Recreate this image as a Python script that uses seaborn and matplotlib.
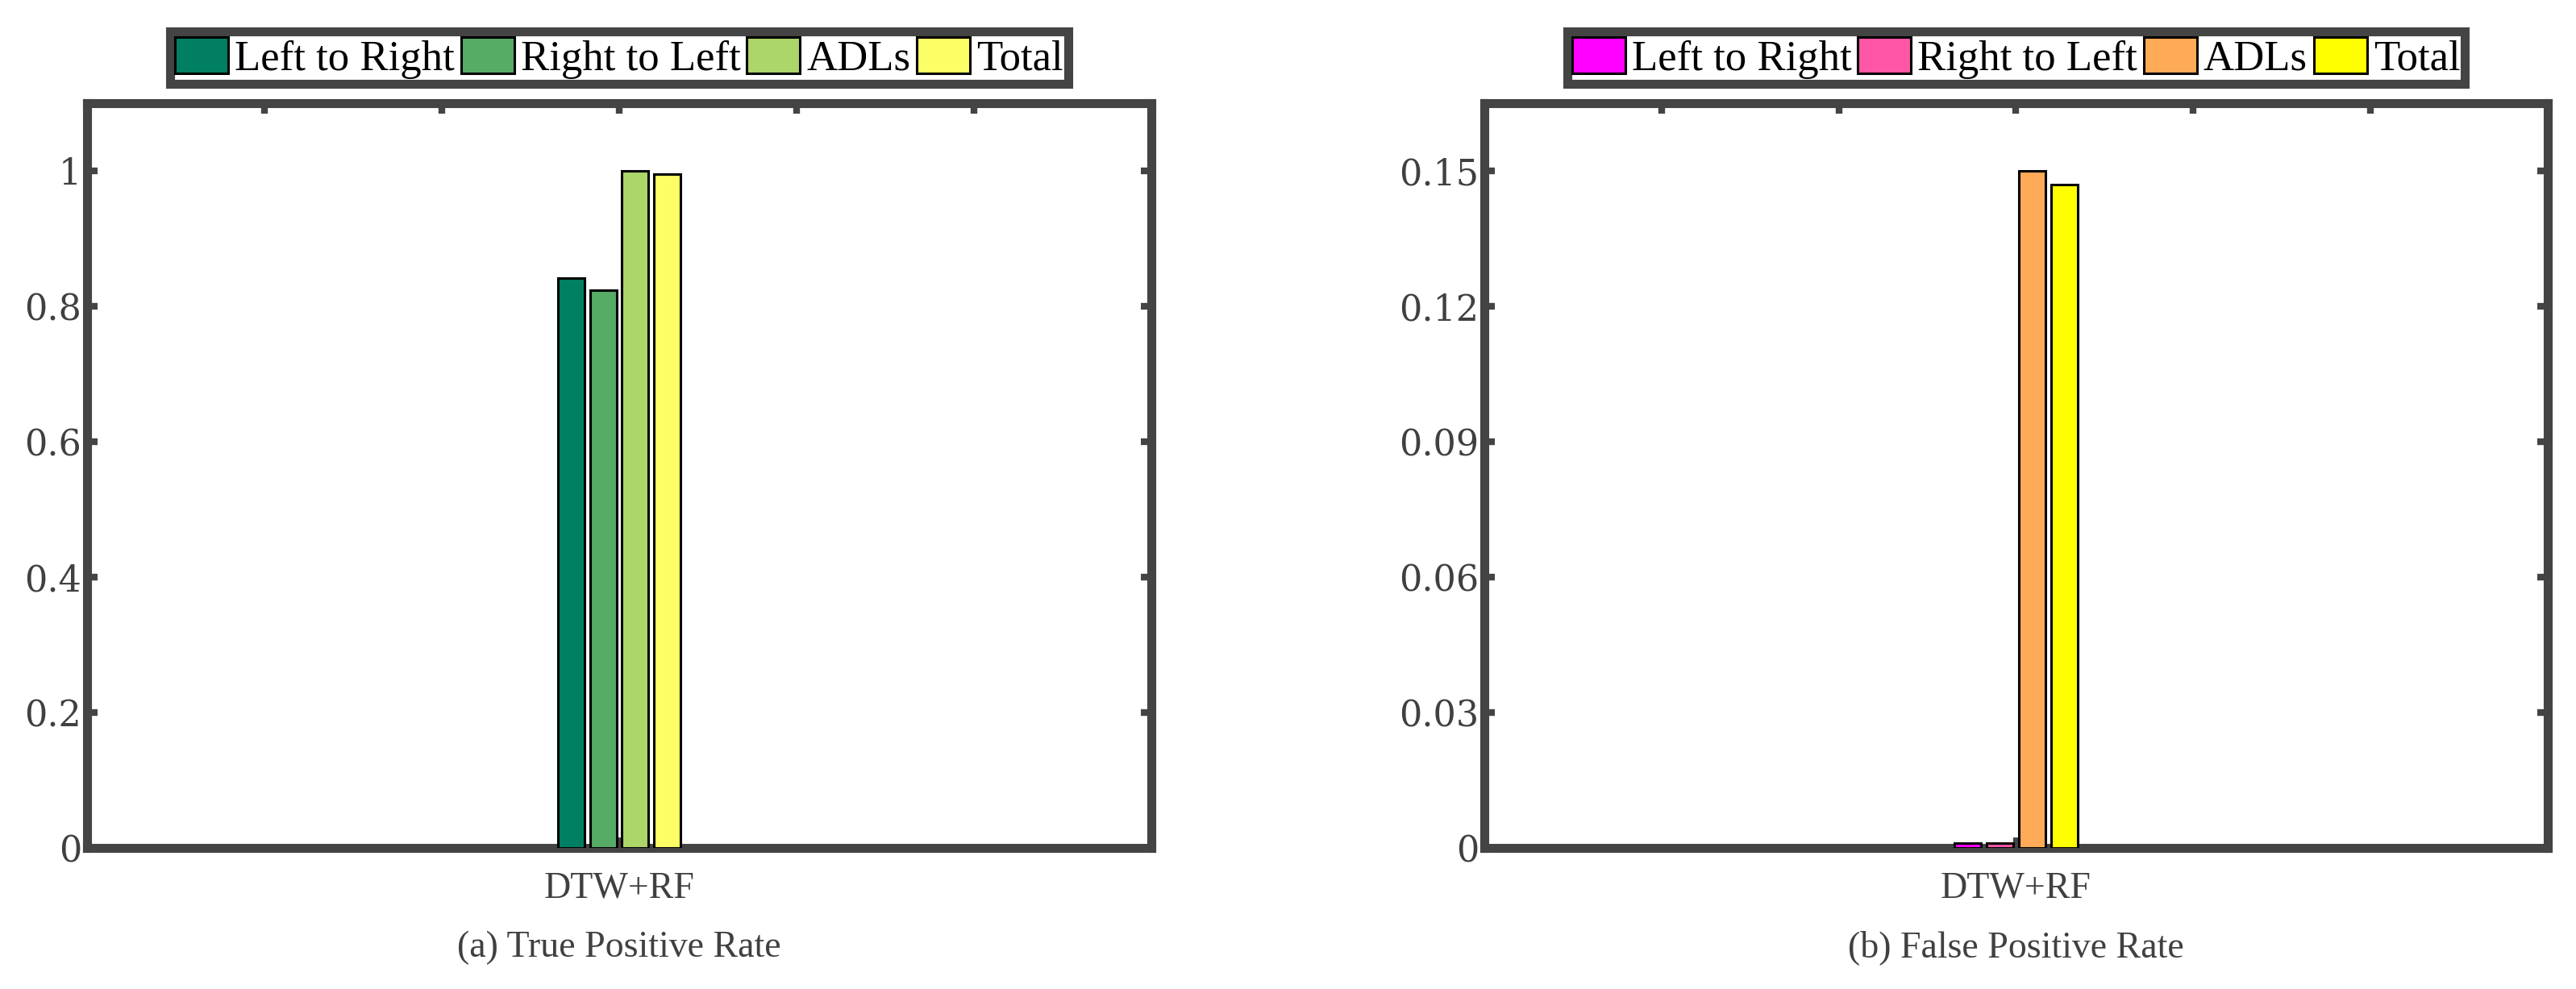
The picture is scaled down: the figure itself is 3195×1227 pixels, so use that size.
import matplotlib
matplotlib.use("Agg")
import matplotlib.pyplot as plt
import seaborn as sns
import pandas as pd
import numpy as np

# ---- data ----
categories = ["DTW+RF"]
series = ["Left to Right", "Right to Left", "ADLs", "Total"]
tpr_values = [0.842, 0.824, 1.000, 0.995]
fpr_values = [0.001, 0.001, 0.150, 0.147]
tpr_colors = ["#017F62", "#56AB67", "#ACD56A", "#FDFD66"]
fpr_colors = ["#FF00FF", "#FF56A8", "#FFAA56", "#FFFF00"]
tpr_yticks = [0, 0.2, 0.4, 0.6, 0.8, 1.0]
tpr_yticklabels = ["0", "0.2", "0.4", "0.6", "0.8", "1"]
fpr_yticks = [0, 0.03, 0.06, 0.09, 0.12, 0.15]
fpr_yticklabels = ["0", "0.03", "0.06", "0.09", "0.12", "0.15"]
titles = ["(a) True Positive Rate", "(b) False Positive Rate"]

sns.set_theme(style="white")
plt.rcParams["font.family"] = ["Liberation Serif", "DejaVu Serif"]

W, H = 3195, 1227
fig = plt.figure(figsize=(W / 100, H / 100), dpi=100)

spine_col = "#444444"
text_col = "#404040"

axes_boxes = [
    (108 / W, 1 - 1052 / H, (1428 - 108) / W, (1052 - 128) / H),
    (1841 / W, 1 - 1052 / H, (3160 - 1841) / W, (1052 - 128) / H),
]

panels = [
    (tpr_values, tpr_colors, tpr_yticks, tpr_yticklabels, 1.1, titles[0]),
    (fpr_values, fpr_colors, fpr_yticks, fpr_yticklabels, 0.165, titles[1]),
]

for box, (vals, cols, yt, ytl, ytop, title) in zip(axes_boxes, panels):
    ax = fig.add_axes(box)
    df = pd.DataFrame({
        "method": [categories[0]] * len(series),
        "series": series,
        "value": vals,
    })
    sns.barplot(data=df, x="method", y="value", hue="series",
                hue_order=series, palette=cols, saturation=1,
                width=0.727, gap=0.175,
                edgecolor="black", linewidth=2.2, ax=ax, legend=True)
    for p in ax.patches:
        p.set_zorder(3)
    ax.set_xlim(-3, 3)
    ax.set_ylim(0, ytop)
    ax.set_yticks(yt)
    ax.set_yticklabels(ytl, fontfamily="DejaVu Serif", fontsize=32,
                       color=text_col)
    ax.set_xticks([0])
    ax.set_xticklabels(categories, fontsize=33, color=text_col)
    ax.set_ylabel("")
    ax.set_xlabel(title, fontsize=33, color=text_col, labelpad=22)
    for s in ax.spines.values():
        s.set_visible(True)
        s.set_color(spine_col)
        s.set_linewidth(8)
        s.set_zorder(2.5)
    ax.tick_params(axis="both", direction="in", length=9.5, width=6,
                   color=spine_col)
    ax.tick_params(axis="y", left=True, right=True, pad=5)
    ax.tick_params(axis="x", bottom=True, top=False, pad=21)
    sec = ax.secondary_xaxis("top")
    sec.set_xticks([-2, -1, 0, 1, 2])
    sec.set_xticklabels([])
    sec.tick_params(direction="in", length=9.5, width=6, color=spine_col)
    sec.spines["top"].set_visible(False)
    leg = ax.legend(loc="lower center", bbox_to_anchor=(0.5, 1.026), ncol=4,
                    fontsize=38, frameon=True, fancybox=False, framealpha=1,
                    handlelength=1.25, handleheight=0.95, handletextpad=0.15,
                    columnspacing=0.15, borderpad=0.12, borderaxespad=0)
    fr = leg.get_frame()
    fr.set_edgecolor(spine_col)
    fr.set_linewidth(8)
    for t in leg.get_texts():
        t.set_color("black")

fig.savefig("out.png", dpi=100)
